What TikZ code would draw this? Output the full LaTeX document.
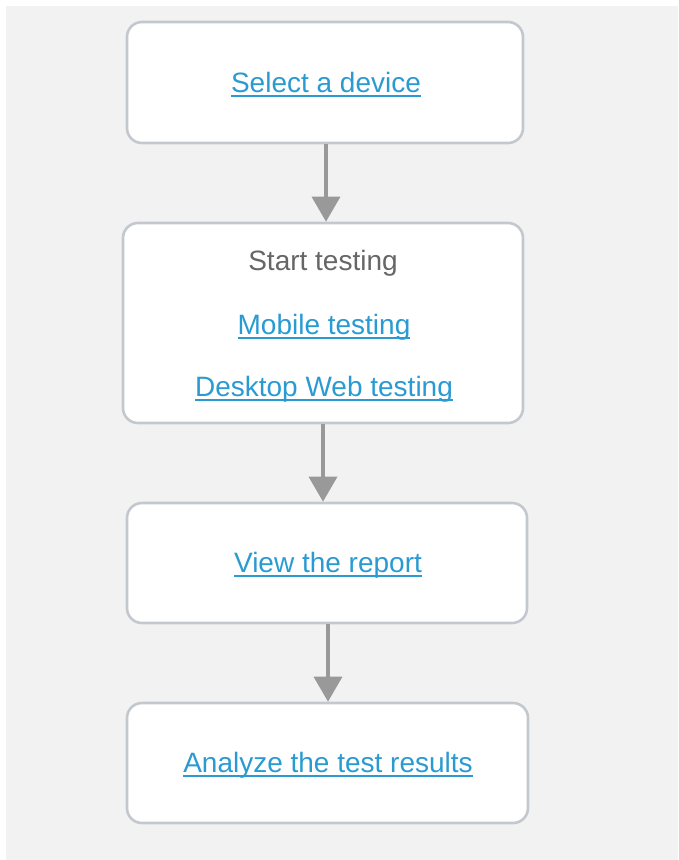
\documentclass[tikz,border=0pt]{standalone}
\usepackage{fontspec}
\setmainfont{Liberation Sans}
\usetikzlibrary{arrows.meta}
\definecolor{bgc}{HTML}{F2F2F2}
\definecolor{boxline}{HTML}{C3C8CE}
\definecolor{linkc}{HTML}{2A9BD2}
\definecolor{plainc}{HTML}{666666}
\definecolor{arrc}{HTML}{999999}
\newcommand\lnktext[1]{\setbox0\hbox{#1}\rlap{\rule[-4.5pt]{\wd0}{1.8pt}}\box0}
\tikzset{
  flowbox/.style={draw=boxline, line width=2.6pt, fill=white, rounded corners=15pt, inner sep=0pt},
  linktext/.style={text=linkc, font=\fontsize{28}{32}\selectfont, inner sep=0pt, anchor=base},
  plaintext/.style={text=plainc, font=\fontsize{28}{32}\selectfont, inner sep=0pt, anchor=base},
  flowarrow/.style={draw=arrc, line width=3.5pt, -{Triangle[width=28pt,length=25pt]}}
}
\begin{document}
\begin{tikzpicture}[x=1pt,y=-1pt]
\useasboundingbox (0,0) rectangle (678,860);
\fill[bgc] (6,6) rectangle (678,860);
\node[flowbox, minimum width=396pt, minimum height=121pt] (b1) at (325,82.5) {};
\node[flowbox, minimum width=400pt, minimum height=200pt] (b2) at (323,323) {};
\node[flowbox, minimum width=400pt, minimum height=120pt] (b3) at (327,563) {};
\node[flowbox, minimum width=401pt, minimum height=120pt] (b4) at (327.5,763) {};
\node[linktext] (t1) at (326,92) {\lnktext{Select a device}};
\node[plaintext] (t2) at (323,270) {Start testing};
\node[linktext] (t3) at (324,334) {\lnktext{Mobile testing}};
\node[linktext] (t4) at (324,396) {\lnktext{Desktop Web testing}};
\node[linktext] (t5) at (328,572) {\lnktext{View the report}};
\node[linktext] (t6) at (328,772) {\lnktext{Analyze the test results}};
\coordinate (a1s) at ([xshift=1pt]b1.south);
\draw[flowarrow] (a1s) -- (a1s |- b2.north);
\draw[flowarrow] (b2.south) -- (b2.south |- b3.north);
\coordinate (a3s) at ([xshift=1pt]b3.south);
\draw[flowarrow] (a3s) -- (a3s |- b4.north);
\end{tikzpicture}
\end{document}
